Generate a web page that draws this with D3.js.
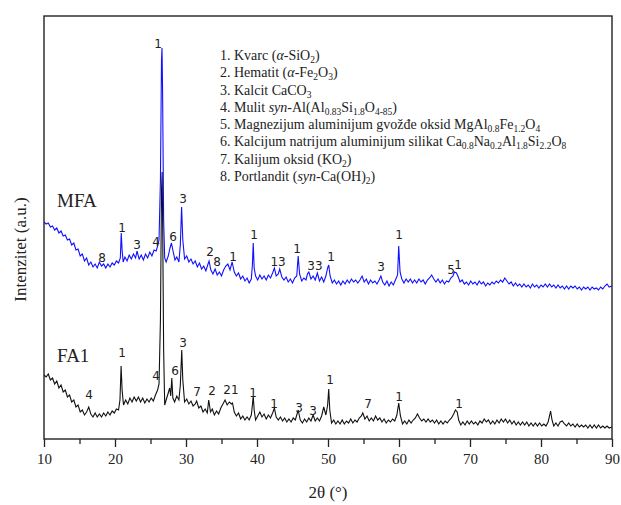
<!DOCTYPE html>
<html>
<head>
<meta charset="utf-8">
<script src="https://cdn.jsdelivr.net/npm/d3@7"></script>
<style>
body { margin: 0; background: #fff; }
svg { display: block; }
.tick text { font-family: "Liberation Serif", "Times New Roman", serif; font-size: 15px; fill: #222; }
.tick line { stroke: #222; stroke-width: 1.3; }
.peak { font-family: "DejaVu Sans", Verdana, sans-serif; font-size: 12px; fill: #222; }
.serif { font-family: "Liberation Serif", "Times New Roman", serif; fill: #222; }
</style>
</head>
<body>
<svg></svg>
<script>
var width  = 621,
    height = 505;

// 2theta (deg), intensity (a.u.)
var mfa = [
  [10.0,217],[10.3,215],[10.6,216],[10.9,212],[11.2,213],[11.5,209],[11.8,211],[12.1,206],[12.4,208],[12.7,203],
  [13.0,204],[13.3,199],[13.6,200],[13.9,194],[14.2,196],[14.5,189],[14.8,190],[15.1,183],[15.4,185],[15.7,178],
  [16.0,181],[16.3,174],[16.6,177],[16.9,172],[17.2,175],[17.5,171],[17.8,177],[18.1,173],[18.4,175],[18.7,171],
  [19.0,175],[19.3,172],[19.6,176],[19.9,174],[20.2,178],[20.5,176],[20.75,181],[20.88,206],[21.0,189],[21.15,177],
  [21.4,182],[21.7,178],[22.0,184],[22.3,180],[22.6,185],[22.9,181],[23.1,188],[23.4,180],[23.7,184],[24.0,179],
  [24.3,185],[24.6,181],[24.9,187],[25.2,183],[25.5,189],[25.8,188],[26.0,193],[26.2,199],[26.4,259],[26.55,379],
  [26.62,391],[26.7,349],[26.85,219],[27.0,181],[27.2,177],[27.5,183],[27.75,191],[27.95,196],[28.2,187],[28.45,179],
  [28.7,182],[29.0,177],[29.2,194],[29.38,232],[29.55,199],[29.8,180],[30.1,183],[30.4,177],[30.7,180],[31.0,175],
  [31.3,178],[31.6,172],[31.9,176],[32.2,170],[32.5,173],[32.8,168],[33.1,175],[33.25,178],[33.5,169],[33.8,165],
  [34.1,170],[34.4,164],[34.7,167],[35.0,163],[35.3,169],[35.6,173],[35.9,175],[36.2,169],[36.5,177],[36.8,167],
  [37.1,163],[37.4,166],[37.7,160],[38.0,163],[38.3,158],[38.6,161],[38.9,156],[39.2,160],[39.35,174],[39.47,196],
  [39.6,171],[39.8,163],[40.1,159],[40.4,164],[40.7,160],[41.0,163],[41.3,159],[41.6,164],[41.9,161],[42.2,166],
  [42.45,171],[42.7,163],[43.0,165],[43.2,170],[43.5,162],[43.8,159],[44.1,162],[44.4,157],[44.7,160],[45.0,156],
  [45.3,161],[45.6,163],[45.8,183],[46.0,165],[46.3,158],[46.6,161],[46.9,159],[47.1,165],[47.3,167],[47.6,160],
  [47.9,163],[48.2,159],[48.5,166],[48.8,158],[49.1,162],[49.4,157],[49.7,163],[49.95,171],[50.1,174],[50.3,163],
  [50.6,156],[50.9,159],[51.2,155],[51.5,158],[51.8,154],[52.1,158],[52.4,155],[52.7,159],[53.0,156],[53.3,160],
  [53.6,157],[53.9,159],[54.2,156],[54.5,159],[54.8,163],[55.1,157],[55.4,160],[55.7,155],[56.0,159],[56.3,156],
  [56.6,158],[56.9,155],[57.2,159],[57.45,163],[57.7,157],[58.0,154],[58.3,158],[58.6,153],[58.9,157],[59.2,154],
  [59.5,159],[59.8,164],[59.96,193],[60.15,167],[60.4,160],[60.7,156],[61.0,160],[61.3,157],[61.6,160],[61.9,156],
  [62.2,159],[62.5,156],[62.8,160],[63.1,157],[63.4,159],[63.7,155],[64.0,159],[64.3,161],[64.6,164],[64.9,160],
  [65.2,157],[65.5,160],[65.8,156],[66.1,159],[66.4,155],[66.7,158],[67.0,157],[67.3,161],[67.6,163],[67.8,167],
  [68.1,166],[68.35,162],[68.6,157],[68.9,159],[69.2,155],[69.5,157],[69.8,154],[70.1,158],[70.4,155],[70.7,157],
  [71.0,154],[71.3,158],[71.6,155],[71.9,157],[72.2,153],[72.5,156],[72.8,154],[73.1,157],[73.4,155],[73.7,158],
  [74.0,156],[74.3,159],[74.6,157],[74.9,161],[75.2,158],[75.5,155],[75.8,157],[76.1,153],[76.4,156],[76.7,153],
  [77.0,155],[77.3,152],[77.6,155],[77.9,152],[78.2,154],[78.5,151],[78.8,155],[79.1,152],[79.4,154],[79.7,151],
  [80.0,154],[80.3,152],[80.6,155],[80.9,152],[81.2,155],[81.5,152],[81.8,154],[82.1,151],[82.4,154],[82.7,151],
  [83.0,153],[83.3,150],[83.6,153],[83.9,150],[84.2,153],[84.5,151],[84.8,153],[85.1,150],[85.4,152],[85.7,149],
  [86.0,152],[86.3,150],[86.6,152],[86.9,149],[87.2,152],[87.5,150],[87.8,151],[88.1,149],[88.4,152],[88.7,150],
  [89.0,153],[89.3,155],[89.6,152],[90.0,153]
];

var fa1 = [
  [10.0,64],[10.3,62],[10.6,65],[10.9,59],[11.2,61],[11.5,55],[11.8,58],[12.1,51],[12.4,54],[12.7,47],
  [13.0,49],[13.3,42],[13.6,44],[13.9,37],[14.2,39],[14.5,32],[14.8,34],[15.1,27],[15.4,29],[15.7,24],
  [16.0,27],[16.3,32],[16.6,25],[16.9,22],[17.2,26],[17.5,22],[17.8,25],[18.1,22],[18.4,26],[18.7,23],
  [19.0,27],[19.3,24],[19.6,28],[19.9,26],[20.2,30],[20.5,29],[20.7,39],[20.86,73],[21.0,49],[21.2,34],
  [21.5,39],[21.8,35],[22.1,41],[22.4,37],[22.7,42],[23.0,38],[23.3,42],[23.6,37],[23.9,41],[24.2,36],
  [24.5,40],[24.8,37],[25.1,41],[25.4,38],[25.7,44],[26.0,49],[26.2,55],[26.4,119],[26.55,249],[26.64,267],
  [26.72,209],[26.85,89],[27.0,34],[27.2,39],[27.5,46],[27.7,51],[27.85,43],[28.0,61],[28.15,41],[28.4,37],
  [28.7,43],[29.0,39],[29.2,54],[29.4,89],[29.55,59],[29.8,37],[30.1,40],[30.4,35],[30.7,38],[31.0,33],
  [31.3,35],[31.5,38],[31.8,31],[32.1,33],[32.4,27],[32.7,30],[33.0,26],[33.2,39],[33.45,27],[33.7,30],
  [34.0,24],[34.3,28],[34.6,25],[34.9,31],[35.2,35],[35.5,39],[35.8,34],[36.1,37],[36.4,35],[36.55,36],
  [36.8,27],[37.1,23],[37.4,26],[37.7,20],[38.0,23],[38.3,19],[38.6,22],[38.9,19],[39.2,24],[39.35,34],
  [39.47,43],[39.6,29],[39.8,19],[40.1,23],[40.4,27],[40.7,22],[41.0,25],[41.3,20],[41.6,24],[41.9,21],
  [42.2,26],[42.45,31],[42.7,22],[43.0,19],[43.3,22],[43.6,18],[43.9,21],[44.2,17],[44.5,20],[44.8,17],
  [45.1,21],[45.4,19],[45.8,29],[46.1,19],[46.4,16],[46.7,20],[47.0,17],[47.3,21],[47.6,18],[47.9,24],
  [48.2,18],[48.5,21],[48.8,18],[49.1,23],[49.4,32],[49.7,24],[49.95,34],[50.1,50],[50.25,29],[50.5,16],
  [50.8,19],[51.1,15],[51.4,18],[51.7,15],[52.0,19],[52.3,15],[52.6,18],[52.9,16],[53.2,20],[53.5,16],
  [53.8,19],[54.1,17],[54.4,21],[54.7,23],[54.9,26],[55.2,20],[55.5,23],[55.8,18],[56.1,21],[56.4,18],
  [56.7,23],[57.0,19],[57.3,21],[57.6,17],[57.9,20],[58.2,16],[58.5,19],[58.8,17],[59.1,20],[59.4,18],
  [59.7,24],[59.96,36],[60.2,23],[60.5,15],[60.8,18],[61.1,15],[61.4,19],[61.7,16],[62.0,19],[62.3,21],
  [62.6,25],[62.9,21],[63.2,18],[63.5,20],[63.8,17],[64.1,20],[64.4,17],[64.7,19],[65.0,16],[65.3,19],
  [65.6,15],[65.9,18],[66.2,15],[66.5,18],[66.8,16],[67.1,19],[67.4,21],[67.7,25],[67.95,29],[68.2,27],
  [68.4,19],[68.7,14],[69.0,17],[69.3,14],[69.6,18],[69.9,15],[70.2,18],[70.5,15],[70.8,17],[71.1,14],
  [71.4,18],[71.7,16],[72.0,20],[72.3,17],[72.6,19],[72.9,15],[73.2,18],[73.5,15],[73.8,19],[74.1,16],
  [74.4,20],[74.7,17],[75.0,20],[75.3,16],[75.6,19],[75.9,15],[76.2,18],[76.5,14],[76.8,17],[77.1,14],
  [77.4,17],[77.7,14],[78.0,17],[78.3,13],[78.6,16],[78.9,13],[79.2,16],[79.5,13],[79.8,16],[80.1,13],
  [80.4,15],[80.7,13],[81.0,17],[81.2,23],[81.35,28],[81.55,19],[81.8,13],[82.1,16],[82.4,13],[82.7,17],
  [83.0,18],[83.3,15],[83.6,13],[83.9,16],[84.2,13],[84.5,15],[84.8,12],[85.1,15],[85.4,12],[85.7,14],
  [86.0,12],[86.3,14],[86.6,11],[86.9,14],[87.2,11],[87.5,14],[87.8,11],[88.1,14],[88.4,11],[88.7,13],
  [89.0,11],[89.3,13],[89.6,11],[90.0,12]
];

// phase labels: 2theta, intensity, text
var mfaPeaks = [
  [26.06,395,"1"],[18.17,181,"8"],[20.99,211,"1"],[23.1,194,"3"],[25.77,197,"4"],[28.17,202,"6"],
  [29.58,240,"3"],[33.38,187,"2"],[34.37,177,"8"],[36.62,182,"1"],[39.58,204,"1"],[42.96,177,"13"],
  [45.63,190,"1"],[48.17,173,"33"],[50.42,182,"1"],[57.46,172,"3"],[60.0,204,"1"],[67.32,169,"5"],
  [68.31,174,"1"]
];
var fa1Peaks = [
  [16.34,44,"4"],[20.99,86,"1"],[25.77,63,"4"],[28.45,68,"6"],[29.58,96,"3"],[31.55,47,"7"],
  [33.66,48,"2"],[36.34,49,"21"],[39.44,46,"1"],[42.39,35,"1"],[45.92,31,"3"],[47.89,28,"3"],
  [50.28,59,"1"],[55.63,35,"7"],[60.0,42,"1"],[68.45,35,"1"]
];

var sampleNames = ["MFA", "FA1"];
var sampleAnchor = [[11.83,239],[11.83,84]];

var majorTicks = [10,20,30,40,50,60,70,80,90];
var minorTicks = [15,25,35,45,55,65,75,85];

// n = normal, i = italic, s = subscript
var legend = [
  [["1. Kvarc (","n"],["α","i"],["-SiO","n"],["2","s"],[")","n"]],
  [["2. Hematit (","n"],["α","i"],["-Fe","n"],["2","s"],["O","n"],["3","s"],[")","n"]],
  [["3. Kalcit CaCO","n"],["3","s"]],
  [["4. Mulit ","n"],["syn","i"],["-Al(Al","n"],["0.83","s"],["Si","n"],["1.8","s"],["O","n"],["4-85","s"],[")","n"]],
  [["5. Magnezijum aluminijum gvožđe oksid MgAl","n"],["0.8","s"],["Fe","n"],["1.2","s"],["O","n"],["4","s"]],
  [["6. Kalcijum natrijum aluminijum silikat Ca","n"],["0.8","s"],["Na","n"],["0.2","s"],["Al","n"],["1.8","s"],["Si","n"],["2.2","s"],["O","n"],["8","s"]],
  [["7. Kalijum oksid (KO","n"],["2","s"],[")","n"]],
  [["8. Portlandit (","n"],["syn","i"],["-Ca(OH)","n"],["2","s"],[")","n"]]
];

var plotLeft = 44, plotRight = 612, plotTop = 16, plotBottom = 439;

var x = d3.scaleLinear().domain([10, 90]).range([plotLeft, plotRight]);
var y = d3.scaleLinear().domain([0, 423]).range([plotBottom, plotTop]);

var svg = d3.select('svg')
  .attr("width", width)
  .attr("height", height);

svg.append("rect").attr("width", width).attr("height", height).attr("fill", "#fff");

svg.append("clipPath").attr("id", "plot")
  .append("rect")
    .attr("x", plotLeft).attr("y", plotTop)
    .attr("width", plotRight - plotLeft).attr("height", plotBottom - plotTop);

var line = d3.line()
  .x(function(d){ return x(d[0]); })
  .y(function(d){ return y(d[1]); });

var curves = svg.append("g").attr("clip-path", "url(#plot)");
curves.append("path").datum(mfa)
  .attr("d", line).attr("fill", "none").attr("stroke", "#1010ff").attr("stroke-width", 1.1);
curves.append("path").datum(fa1)
  .attr("d", line).attr("fill", "none").attr("stroke", "#111").attr("stroke-width", 1.1);

function drawPeaks(list) {
  svg.append("g").selectAll("text")
    .data(list)
    .enter()
      .append("text")
      .attr("class", "peak")
      .attr("x", function(d){ return x(d[0]); })
      .attr("y", function(d){ return y(d[1]); })
      .attr("dy", "0.36em")
      .attr("text-anchor", "middle")
      .text(function(d){ return d[2]; });
}
drawPeaks(mfaPeaks);
drawPeaks(fa1Peaks);

svg.append("g").selectAll("text")
  .data(sampleNames)
  .enter()
    .append("text")
    .attr("class", "serif")
    .attr("x", function(d, i){ return x(sampleAnchor[i][0]); })
    .attr("y", function(d, i){ return y(sampleAnchor[i][1]); })
    .attr("dy", "0.35em")
    .style("font-size", "19px")
    .text(function(d){ return d; });

// frame
svg.append("rect")
  .attr("x", plotLeft).attr("y", plotTop)
  .attr("width", plotRight - plotLeft).attr("height", plotBottom - plotTop)
  .attr("fill", "none").attr("stroke", "#222").attr("stroke-width", 1.4);

var xAxis = svg.append("g")
  .attr("transform", "translate(0," + plotBottom + ")")
  .call(d3.axisBottom(x).tickValues(majorTicks).tickSize(8).tickPadding(6).tickFormat(d3.format("d")));
xAxis.select(".domain").remove();

var xMinor = svg.append("g")
  .attr("transform", "translate(0," + plotBottom + ")")
  .call(d3.axisBottom(x).tickValues(minorTicks).tickSize(5).tickFormat(""));
xMinor.select(".domain").remove();

svg.append("text")
  .attr("class", "serif")
  .attr("x", (plotLeft + plotRight) / 2)
  .attr("y", 492)
  .attr("dy", "0.35em")
  .attr("text-anchor", "middle")
  .style("font-size", "17px")
  .text("2θ (°)");

svg.append("text")
  .attr("class", "serif")
  .attr("transform", "translate(20," + ((plotTop + plotBottom) / 2 + 22) + ") rotate(-90)")
  .attr("dy", "0.35em")
  .attr("text-anchor", "middle")
  .style("font-size", "17px")
  .text("Intenzitet (a.u.)");

// legend
var leg = svg.append("g").attr("class", "serif").style("font-size", "14px");
legend.forEach(function(parts, i) {
  var t = leg.append("text")
    .attr("x", 220)
    .attr("y", 55 + i * 17.3)
    .attr("dy", "0.35em");
  var shifted = false;
  parts.forEach(function(p) {
    var s = t.append("tspan").text(p[0]);
    if (p[1] == "s") {
      s.style("font-size", "9.5px");
      if (!shifted) { s.attr("dy", 3); shifted = true; }
    } else {
      if (shifted) { s.attr("dy", -3); shifted = false; }
      if (p[1] == "i") s.style("font-style", "italic");
    }
  });
});
</script>
</body>
</html>
